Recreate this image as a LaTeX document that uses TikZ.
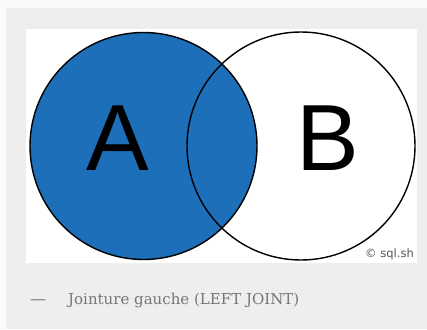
\documentclass[tikz,border=0pt]{standalone}
\usepackage{fontspec}
\setmainfont{DejaVu Serif}
\newfontfamily\labelfont{Liberation Sans}
\newfontfamily\notefont{DejaVu Sans}
\definecolor{pagebg}{HTML}{FAFAFA}
\definecolor{panel}{HTML}{EEEEEE}
\definecolor{setblue}{HTML}{1E6FBA}
\definecolor{captiongray}{HTML}{767676}
\tikzset{
  setline/.style={draw=black, line width=1.4pt},
  setletter/.style={font=\labelfont\fontsize{94}{94}\selectfont, inner sep=0pt, anchor=base},
}
\begin{document}
\begin{tikzpicture}[x=1pt,y=-1pt]
  % page, panel and image area
  \fill[pagebg] (0,0) rectangle (427,329);
  \useasboundingbox (0,0) rectangle (427,329);
  \fill[panel] (6,8) rectangle (427,329);
  \fill[white] (26,29) rectangle (417,263);
  % the two sets: A filled, both outlined
  \fill[setblue] (143.5,146) circle[radius=113.5];
  \draw[setline] (143.5,146) circle[radius=113.5];
  \draw[setline] (301,146) circle[radius=114];
  \node[setletter] (A) at (117.5,170) {A};
  \node[setletter] (B) at (328,170) {B};
  \node[font=\notefont\fontsize{11.5}{11.5}\selectfont, text=black!65, anchor=base east, inner sep=0pt] (credit) at (414,257) {© sql.sh};
  % caption
  \node[text=captiongray, anchor=base west, inner sep=0pt] (dash) at (30,304) {\fontsize{16}{16}\selectfont —};
  \node[text=captiongray, anchor=base west, inner sep=0pt, font=\fontsize{15}{15}\selectfont] (caption) at (68,304) {Jointure gauche (LEFT JOINT)};
\end{tikzpicture}
\end{document}
